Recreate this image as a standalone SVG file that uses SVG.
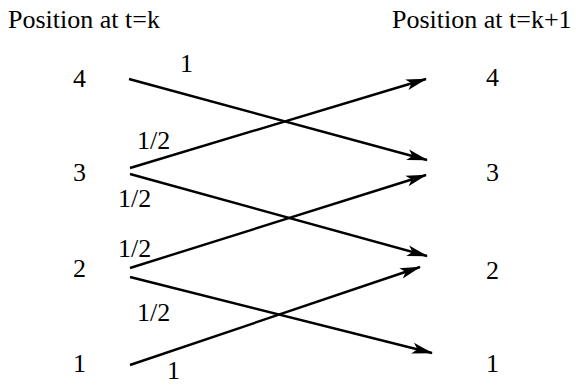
<svg xmlns="http://www.w3.org/2000/svg" width="576" height="385" viewBox="0 0 576 385">
<style>
.t{font-family:'Liberation Serif','DejaVu Serif','Times New Roman',serif;font-size:26px;fill:#000}
.c line{stroke:#000;stroke-width:2.4;fill:none;marker-end:url(#ah)}
</style>
<defs>
<marker id="ah" markerUnits="userSpaceOnUse" viewBox="-24 -8 26 16" markerWidth="26" markerHeight="16" refX="0" refY="0" orient="auto" overflow="visible">
<path d="M1,0 L-20,-5.5 L-15,0 L-20,5.5 Z" fill="#000"/>
</marker>
</defs>
<rect width="576" height="385" fill="#fff"/>
<g class="t">
<g id="titles">
<text x="8" y="28">Position at t=k</text>
<text x="392" y="28">Position at t=k+1</text>
</g>
<g id="left4"><text x="73" y="87">4</text></g>
<g id="left3"><text x="73" y="181">3</text></g>
<g id="left2"><text x="73" y="277">2</text></g>
<g id="left1"><text x="73" y="372">1</text></g>
<g id="right4"><text x="486" y="86">4</text></g>
<g id="right3"><text x="486" y="181">3</text></g>
<g id="right2"><text x="486" y="279">2</text></g>
<g id="right1"><text x="486" y="372">1</text></g>
<g id="labels">
<text x="180" y="72">1</text>
<text x="137" y="149">1/2</text>
<text x="118" y="207">1/2</text>
<text x="118" y="257">1/2</text>
<text x="137" y="321">1/2</text>
<text x="167" y="379">1</text>
</g>
</g>
<g id="connectors" class="c">
<line x1="129" y1="79" x2="427" y2="160"/>
<line x1="130" y1="168" x2="426" y2="79"/>
<line x1="130" y1="174" x2="427" y2="256"/>
<line x1="130" y1="268" x2="426" y2="175"/>
<line x1="130" y1="277" x2="432" y2="353"/>
<line x1="130" y1="365" x2="420" y2="267"/>
</g>
</svg>
